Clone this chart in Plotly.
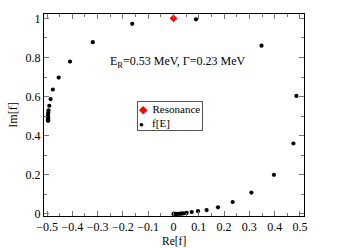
import plotly.graph_objects as go

# f[E] points (Re, Im)
re_f = [0.000, 0.004, 0.008, 0.013, 0.018, 0.024, 0.029, 0.033, 0.041, 0.052, 0.072, 0.097,
        0.131, 0.176, 0.234, 0.308, 0.397, 0.474, 0.486, 0.348, 0.089,
        -0.163, -0.319, -0.409, -0.454, -0.477, -0.486, -0.491, -0.494, -0.495,
        -0.496, -0.496, -0.496, -0.496, -0.496, -0.496, -0.496]
im_f = [0.000, 0.000, 0.000, 0.000, 0.001, 0.001, 0.002, 0.002, 0.003, 0.005, 0.010, 0.014,
        0.020, 0.034, 0.061, 0.109, 0.200, 0.360, 0.603, 0.860, 0.995,
        0.972, 0.878, 0.779, 0.697, 0.636, 0.587, 0.553, 0.530, 0.518,
        0.508, 0.500, 0.494, 0.488, 0.483, 0.479, 0.476]

res_re = [0.0]
res_im = [1.0]

legend_labels = ["Resonance", "f[E]"]

serif = "Liberation Serif, Times New Roman, serif"

fig = go.Figure()
fig.add_trace(go.Scatter(x=res_re, y=res_im, mode="markers", name=legend_labels[0],
                         marker=dict(symbol="diamond", color="#ff0000", size=6)))
fig.add_trace(go.Scatter(x=re_f, y=im_f, mode="markers", name=legend_labels[1],
                         marker=dict(symbol="circle", color="black", size=4.2)))

axis_common = dict(showgrid=False, zeroline=False, showline=True, linecolor="black",
                   linewidth=1, mirror="allticks", ticks="inside", ticklen=5,
                   tickcolor="#777777", tickwidth=1,
                   tickfont=dict(family=serif, size=12, color="black"))

fig.update_xaxes(range=[-0.512, 0.516], dtick=0.1, tick0=0,
                 minor=dict(dtick=0.05, ticks="inside", ticklen=3, tickcolor="#777777"),
                 **axis_common)
fig.update_yaxes(range=[-0.0105, 1.022], dtick=0.2, tick0=0,
                 minor=dict(dtick=0.1, ticks="inside", ticklen=3, tickcolor="#777777"),
                 title=dict(text="Im[f]", font=dict(family=serif, size=12, color="black"), standoff=5),
                 **axis_common)

# x-axis title placed tight below tick labels
fig.add_annotation(x=0.5, y=-0.122, xref="paper", yref="paper", showarrow=False,
                   yanchor="middle", text="Re[f]", borderpad=0,
                   font=dict(family=serif, size=11.5, color="black"))

fig.add_annotation(x=0.018, y=0.775, xref="x", yref="y", showarrow=False,
                   text="E<sub>R</sub>=0.53 MeV, Γ=0.23 MeV",
                   font=dict(family=serif, size=12, color="black"))

# compact legend box
legend_text = ("<span style='color:#ff0000'>◆</span>  " + legend_labels[0] + "<br>"
               + "<span style='font-size:8px'>●</span>   " + legend_labels[1])
fig.add_annotation(x=-0.146, y=0.575, xref="x", yref="y", xanchor="left", yanchor="top",
                   showarrow=False, align="left", text=legend_text,
                   font=dict(family=serif, size=11, color="black"),
                   bordercolor="#555555", borderwidth=1, borderpad=1, bgcolor="white",
                   width=62)

fig.update_layout(
    width=351, height=248,
    margin=dict(l=38, r=47, t=12, b=32),
    paper_bgcolor="white", plot_bgcolor="white",
    showlegend=False,
)

fig.write_html("out.html", config={"displayModeBar": False},
               post_script="document.body.style.margin='0';document.body.style.padding='0';")
